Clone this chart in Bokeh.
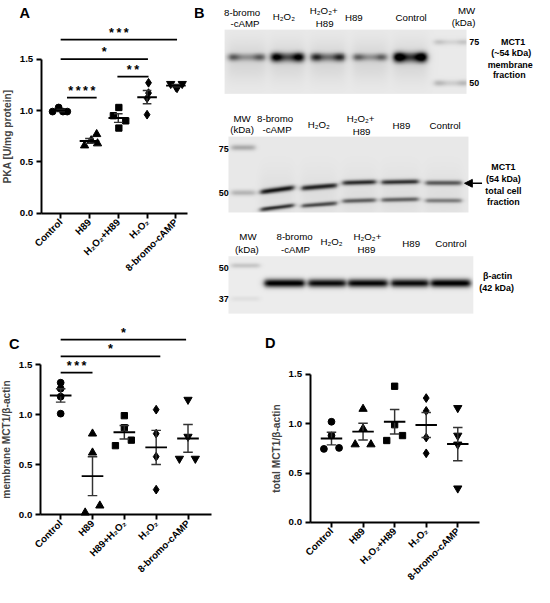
import math
import numpy as np
from bokeh.plotting import figure
from bokeh.layouts import row, column
from bokeh.models import (Range1d, FixedTicker, NumeralTickFormatter, Label,
                          Arrow, NormalHead, LinearColorMapper)
from bokeh.embed import file_html
from bokeh.resources import INLINE
from bokeh.core.properties import value

S = 0.971
FONT = "Liberation Sans"


def fs(v):
    return f"{v * S:.2f}px"


# ---------------- data ----------------
labels_A = ["Control", "H89", "H₂O₂+H89", "H₂O₂", "8-bromo-cAMP"]
pka_control = [0.99, 1.03, 0.99, 0.99]
pka_h89 = [0.66, 0.71, 0.77, 0.68]
pka_h2o2_h89 = [1.03, 0.95, 0.90, 0.83]
pka_h2o2 = [1.27, 1.17, 1.12, 0.96]
pka_bromo = [1.26, 1.22, 1.26, 1.23]

labels_C = ["Control", "H89", "H89+H₂O₂", "H₂O₂", "8-bromo-cAMP"]
mem_control = [1.32, 1.26, 1.18, 1.01]
mem_h89 = [0.81, 0.62, 0.02, 0.09]
mem_h89_h2o2 = [0.99, 0.87, 0.69, 0.745]
mem_h2o2 = [1.05, 0.81, 0.58, 0.25]
mem_bromo = [1.15, 0.78, 0.56, 0.56]

labels_D = ["Control", "H89", "H₂O₂+H89", "H₂O₂", "8-bromo-cAMP"]
tot_control = [1.02, 0.88, 0.745, 0.755]
tot_h89 = [1.15, 0.95, 0.79, 0.79]
tot_h2o2_h89 = [1.38, 0.99, 0.83, 0.88]
tot_h2o2 = [1.26, 1.13, 0.86, 0.70]
tot_bromo = [1.16, 0.88, 0.79, 0.345]

# significance brackets: (from group, to group, level, stars)
sig_A = [(0, 4.04, 1.69, "***"), (0, 3.03, 1.50, "*"),
         (1.97, 3.05, 1.33, "**"), (0.22, 1.25, 1.125, "****")]
sig_C = [(0, 3.94, 1.75, "*"), (0, 3.13, 1.584, "*"), (0, 1.0, 1.42, "***")]

# western blot lanes and band intensities (relative darkness)
blot_lanes = ["8-bromo-cAMP", "H₂O₂", "H₂O₂+H89", "H89", "Control"]
mct1_membrane = [0.42, 0.80, 0.60, 0.40, 0.95]
mct1_total_upper = [0.80, 0.74, 0.72, 0.68, 0.55]
mct1_total_lower = [0.72, 0.60, 0.52, 0.50, 0.40]
actin_band = [0.97, 0.90, 0.92, 0.90, 0.97]

# ---------------- styles ----------------
MARKERS = ["circle", "triangle", "square", "diamond", "inverted_triangle"]
MSIZE = [7, 8.5, 6.5, 9, 8.5]

off_A = [[-0.28, -0.07, 0.08, 0.23], [-0.17, 0.06, 0.25, 0.28],
         [0.02, -0.17, 0.26, 0.02], [0.05, 0.05, 0.0, 0.0],
         [-0.18, 0.04, 0.22, 0.0]]
off_C = [[0, 0, 0, 0], [0, 0, -0.23, 0.23], [0, 0, -0.28, 0.22],
         [0, 0, 0, 0], [0, 0, -0.27, 0.23]]
off_D = [[0, 0, -0.24, 0.24], [0, 0, -0.25, 0.25], [0, 0, -0.25, 0.25],
         [0, 0, 0, 0], [0, 0, 0, 0]]


def dot_panel(width, height, xr, yr, axis_x, axis_x_end, tick_labels, series,
              offsets, ylabel, letter, letter_xy, brackets):
    p = figure(width=width, height=height, x_range=Range1d(*xr), y_range=Range1d(*yr),
               output_backend="svg", toolbar_location=None, min_border=0)
    p.outline_line_color = None
    p.xgrid.visible = False
    p.ygrid.visible = False
    for ax in (p.xaxis[0], p.yaxis[0]):
        ax.axis_line_width = 2 * S
        ax.axis_line_color = "black"
        ax.major_tick_line_width = 2 * S
        ax.major_tick_line_color = "black"
        ax.major_tick_out = round(5 * S)
        ax.major_tick_in = 0
        ax.minor_tick_line_color = None
        ax.major_label_text_font = FONT
        ax.major_label_text_font_style = "bold"
        ax.major_label_text_font_size = fs(10)
        ax.major_label_text_color = "black"
    yax = p.yaxis[0]
    yax.fixed_location = axis_x
    yax.ticker = FixedTicker(ticks=[0, 0.5, 1.0, 1.5], minor_ticks=[])
    yax.formatter = NumeralTickFormatter(format="0.0")
    yax.bounds = (0, 1.5)
    yax.major_label_standoff = 3
    yax.axis_label = ylabel
    yax.axis_label_text_font = FONT
    yax.axis_label_text_font_style = "bold"
    yax.axis_label_text_font_size = fs(10.5)
    yax.axis_label_standoff = 4
    xax = p.xaxis[0]
    xax.fixed_location = 0
    xax.bounds = (axis_x, axis_x_end)
    xax.ticker = FixedTicker(ticks=list(range(len(tick_labels))), minor_ticks=[])
    xax.major_label_overrides = {i: t for i, t in enumerate(tick_labels)}
    xax.major_label_orientation = math.pi / 4
    xax.major_label_standoff = 2

    for i, (vals, offs) in enumerate(zip(series, offsets)):
        xs = [i + o for o in offs]
        p.scatter(xs, vals, marker=MARKERS[i], size=MSIZE[i] * S,
                  fill_color="black", line_color="black")
        m = float(np.mean(vals))
        se = float(np.std(vals, ddof=1) / np.sqrt(len(vals)))
        p.segment(x0=[i], y0=[m - se], x1=[i], y1=[m + se],
                  line_color="#333333", line_width=1.5 * S)
        p.segment(x0=[i - 0.15, i - 0.15], y0=[m - se, m + se],
                  x1=[i + 0.15, i + 0.15], y1=[m - se, m + se],
                  line_color="#333333", line_width=1.5 * S)
        p.segment(x0=[i - 0.34], y0=[m], x1=[i + 0.34], y1=[m],
                  line_color="black", line_width=2 * S)

    for (a, b, lv, txt) in brackets:
        p.segment(x0=[a], y0=[lv], x1=[b], y1=[lv], line_color="black",
                  line_width=1.8 * S)
        p.text(x=[(a + b) / 2], y=[lv], text=["\u2009".join(txt)],
               text_font=value(FONT), text_font_style="bold",
               text_font_size=fs(13), text_align="center",
               text_baseline="bottom", text_color="black")

    p.add_layout(Label(x=letter_xy[0], y=letter_xy[1], text=letter,
                       text_font=FONT, text_font_style="bold",
                       text_font_size=fs(15), text_align="center",
                       text_baseline="middle", text_color="black"))
    return p


pA = dot_panel(194, 316, (-2.088, 4.646), (-1.002, 2.070), -0.673, 4.41, labels_A,
               [pka_control, pka_h89, pka_h2o2_h89, pka_h2o2, pka_bromo], off_A,
               "PKA [U/mg protein]", "A", (-1.25, 1.95), sig_A)

pC = dot_panel(262, 270, (-1.890, 6.34), (-0.719, 1.982), -0.64, 4.73, labels_C,
               [mem_control, mem_h89, mem_h89_h2o2, mem_h2o2, mem_bromo], off_C,
               "membrane MCT1/β-actin", "C", (-1.46, 1.71), sig_C)

pD = dot_panel(272, 270, (-2.185, 6.43), (-0.650, 2.087), -0.677, 4.68, labels_D,
               [tot_control, tot_h89, tot_h2o2_h89, tot_h2o2, tot_bromo], off_D,
               "total MCT1/β-actin", "D", (-1.94, 1.82), [])

# ---------------- panel B: blots ----------------
pB = figure(width=340, height=316, x_range=Range1d(0, 350), y_range=Range1d(0, 325),
            output_backend="svg", toolbar_location=None,
            x_axis_type=None, y_axis_type=None, min_border=0)
pB.outline_line_color = None
pB.xgrid.visible = False
pB.ygrid.visible = False

GRAY = ["#%02x%02x%02x" % (i, i, i) for i in range(256)]
cmap = LinearColorMapper(palette=GRAY, low=0, high=1)


def bx(x):
    return x - 200


def by(y):
    return 325 - y


def blot(x0, x1, y0, y1, bands, bg, smears=(), edge=0.0):
    r = 3
    nx = int((x1 - x0) * r)
    ny = int((y1 - y0) * r)
    xs = x0 + (np.arange(nx) + 0.5) / r
    ys = y1 - (np.arange(ny) + 0.5) / r
    X, Y = np.meshgrid(xs, ys)
    img = np.full((ny, nx), bg, dtype=float)
    for (xa, xb, yc, sig, inten) in smears:
        prof = 1 / (1 + np.exp(-(X - xa) / 2.5)) * 1 / (1 + np.exp((X - xb) / 2.5))
        img -= inten * prof * np.exp(-((Y - yc) / sig) ** 2)
    for (xa, xb, yc, sig, inten, tilt) in bands:
        xc = (xa + xb) / 2
        prof = 1 / (1 + np.exp(-(X - xa) / 1.5)) * 1 / (1 + np.exp((X - xb) / 1.5))
        if edge:
            prof = prof * (1 - edge + edge * 1.6 * (np.exp(-((X - xa - 6) / 6) ** 2)
                                                   + np.exp(-((X - xb + 6) / 6) ** 2)))
        yy = yc + tilt * (X - xc)
        img -= inten * prof * np.exp(-((Y - yy) / sig) ** 2)
    img = np.clip(img, 0, 1)
    pB.image(image=[img], x=bx(x0), y=by(y1), dw=x1 - x0, dh=y1 - y0,
             color_mapper=cmap)


lanes1 = [(234, 273), (278, 313), (319, 355), (362, 398), (404, 439)]
bands1 = [(a, b, 58.5, 2.6 + 2.4 * v, v, 0) for (a, b), v in zip(lanes1, mct1_membrane)]
bands1 += [(445, 482, 43, 3, 0.12, 0), (445, 482, 85, 3, 0.16, 0)]
smears1 = [(a, b, 62, 20, 0.08) for (a, b) in lanes1]
blot(231, 480, 30, 96, bands1, 0.915, smears1, edge=0.35)

lanes2 = [(268, 302), (310, 346), (352, 386), (392, 430), (437, 474)]
up_y = [195, 192, 187.5, 187, 188]
lo_y = [213, 210, 206, 205, 206]
tilt2 = [-0.13, -0.08, -0.03, -0.02, 0.0]
bands2 = []
for (a, b), v, yy, t in zip(lanes2, mct1_total_upper, up_y, tilt2):
    bands2.append((a, b, yy, 2.6, v, t))
for (a, b), v, yy, t in zip(lanes2, mct1_total_lower, lo_y, tilt2):
    bands2.append((a, b, yy, 2.2, v, t))
bands2 += [(238, 262, 152, 3, 0.25, 0), (238, 262, 198, 3, 0.2, 0)]
smears2 = [(a, b, 200, 25, 0.04) for (a, b) in lanes2]
blot(235, 482, 140, 218, bands2, 0.91, smears2)

lanes3 = [(272, 313), (317, 355), (358, 398), (402, 440), (443, 483)]
bands3 = [(a, b, 291, 4.2, v, 0) for (a, b), v in zip(lanes3, actin_band)]
bands3 += [(238, 267, 273, 2.5, 0.15, 0), (238, 267, 307, 2.5, 0.05, 0)]
blot(235, 487, 263, 322, bands3, 0.925)


def texts(items, size, bold=False):
    pB.text(x=[bx(t[1]) for t in items], y=[by(t[2]) for t in items],
            text=[t[0] for t in items], text_font=value(FONT),
            text_font_size=fs(size), text_font_style="bold" if bold else "normal",
            text_align="center", text_baseline="middle", text_color="black")


lane_text = [
    ("8-bromo", 249, 12), ("-cAMP", 252, 24), ("H₂O₂", 292, 16),
    ("H₂O₂+", 333, 10), ("H89", 334, 24), ("H89", 364, 17), ("Control", 423, 17),
    ("MW", 480, 10), ("(kDa)", 477, 23),
    ("MW", 249, 121), ("(kDa)", 249, 133), ("8-bromo", 283, 121), ("-cAMP", 285, 133),
    ("H₂O₂", 328, 128), ("H₂O₂+", 371, 121), ("H89", 372, 135), ("H89", 413, 129),
    ("Control", 458, 129),
    ("MW", 255, 243), ("(kDa)", 254, 256), ("8-bromo", 303, 243), ("-cAMP", 304, 256),
    ("H₂O₂", 341, 248), ("H₂O₂+", 378, 243), ("H89", 377, 256), ("H89", 423, 250),
    ("Control", 464, 250),
]
texts(lane_text, 10)

bold_text = [
    ("75", 488, 43), ("50", 488, 85),
    ("MCT1", 528, 43), ("(~54 kDa)", 526, 54), ("membrane", 525, 66), ("fraction", 524, 77),
    ("75", 230, 153), ("50", 230, 198),
    ("MCT1", 518, 171), ("(54 kDa)", 518, 184), ("total cell", 518, 196), ("fraction", 518, 207),
    ("50", 230, 275), ("37", 230, 307),
    ("β-actin", 512, 283), ("(42 kDa)", 511, 296),
]
texts(bold_text, 9.2, bold=True)

pB.add_layout(Label(x=bx(205), y=by(13), text="B", text_font=FONT,
                    text_font_style="bold", text_font_size=fs(15),
                    text_align="center", text_baseline="middle", text_color="black"))

pB.add_layout(Arrow(end=NormalHead(size=8 * S, fill_color="black", line_color="black"),
                    x_start=bx(496), y_start=by(188), x_end=bx(478), y_end=by(188),
                    line_width=1.5 * S, line_color="black"))

layout = column(row(pA, pB), row(pC, pD))

with open("out.html", "w") as f:
    f.write(file_html(layout, INLINE))
